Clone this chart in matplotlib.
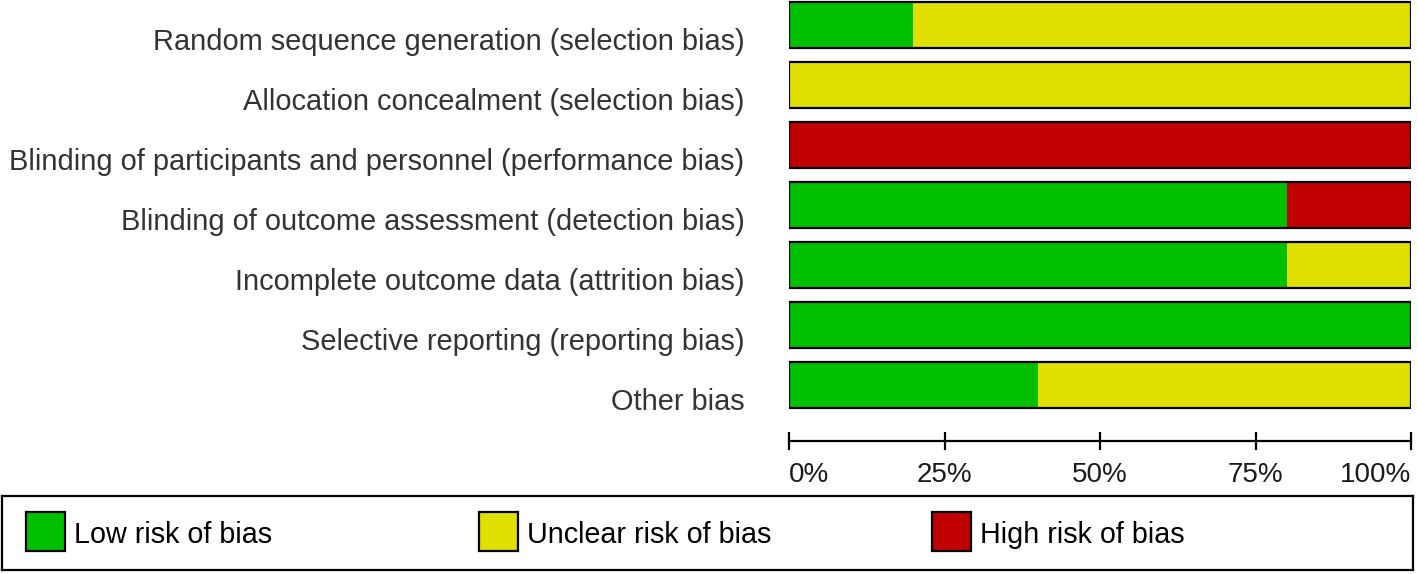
import numpy as np
import matplotlib
matplotlib.use("Agg")
import matplotlib.pyplot as plt
from matplotlib.patches import Rectangle
from matplotlib.transforms import ScaledTranslation

plt.rcParams['font.family'] = ['Liberation Sans', 'DejaVu Sans']

domains = [
    "Random sequence generation (selection bias)",
    "Allocation concealment (selection bias)",
    "Blinding of participants and personnel (performance bias)",
    "Blinding of outcome assessment (detection bias)",
    "Incomplete outcome data (attrition bias)",
    "Selective reporting (reporting bias)",
    "Other bias",
]
# percent of studies in each judgement
low = [20, 0, 0, 80, 80, 100, 40]
unclear = [80, 100, 0, 0, 20, 0, 60]
high = [0, 0, 100, 20, 0, 0, 0]

cat_names = ["Low risk of bias", "Unclear risk of bias", "High risk of bias"]
cat_colors = ["#00c000", "#e0e000", "#c00000"]

ticks = [0, 25, 50, 75, 100]
tick_labels = ["0%", "25%", "50%", "75%", "100%"]

W, H = 1418, 574
fig = plt.figure(figsize=(W / 100, H / 100), dpi=100)

# main bar axes, placed in pixels
x0, x1 = 789, 1411
ytop, ybot = 0, 420
ax = fig.add_axes([x0 / W, 1 - ybot / H, (x1 - x0) / W, (ybot - ytop) / H])

y = np.arange(len(domains))
bh = 46 / 60
left = np.zeros(len(domains))
for vals, col in zip([low, unclear, high], cat_colors):
    ax.barh(y, vals, left=left, height=bh, color=col, edgecolor='none', linewidth=0)
    left = left + np.array(vals)
ax.barh(y, left, height=bh, fill=False, edgecolor='black', linewidth=1.6)

ax.set_xlim(0, 100)
ax.set_ylim((ybot - 25) / 60, -25 / 60)

for s in ['top', 'right', 'left']:
    ax.spines[s].set_visible(False)
ax.spines['bottom'].set_position(('outward', 21 * 0.72))
ax.spines['bottom'].set_linewidth(1.6)
ax.set_xticks(ticks)
ax.set_xticklabels(tick_labels)
ax.tick_params(axis='x', direction='inout', length=13, width=1.6,
               labelsize=20, labelcolor='#1a1a1a', pad=8.5)
xl = ax.get_xticklabels()
xl[0].set_ha('left')
xl[-1].set_ha('right')

ax.set_yticks(y)
ax.set_yticklabels(domains)
ax.tick_params(axis='y', length=0, pad=32, labelsize=20.9, labelcolor='#333333')
off = ScaledTranslation(0, -0.14, fig.dpi_scale_trans)
for lab in ax.get_yticklabels():
    lab.set_transform(lab.get_transform() + off)

# legend box
lx0, lx1, ly0, ly1 = 2, 1413, 496, 570
lax = fig.add_axes([lx0 / W, 1 - ly1 / H, (lx1 - lx0) / W, (ly1 - ly0) / H])
lax.set_xlim(lx0, lx1)
lax.set_ylim(ly1, ly0)
lax.set_xticks([])
lax.set_yticks([])
for s in lax.spines.values():
    s.set_linewidth(1.6)
sq = 39
starts = [26, 479, 932]
for name, col, sx in zip(cat_names, cat_colors, starts):
    cy = 532
    lax.add_patch(Rectangle((sx, cy - sq / 2), sq, sq, facecolor=col,
                            edgecolor='black', linewidth=1.6))
    lax.text(sx + sq + 9, cy + 3, name, fontsize=20.7, color='black',
             ha='left', va='center')

fig.savefig("out.png", dpi=100)
